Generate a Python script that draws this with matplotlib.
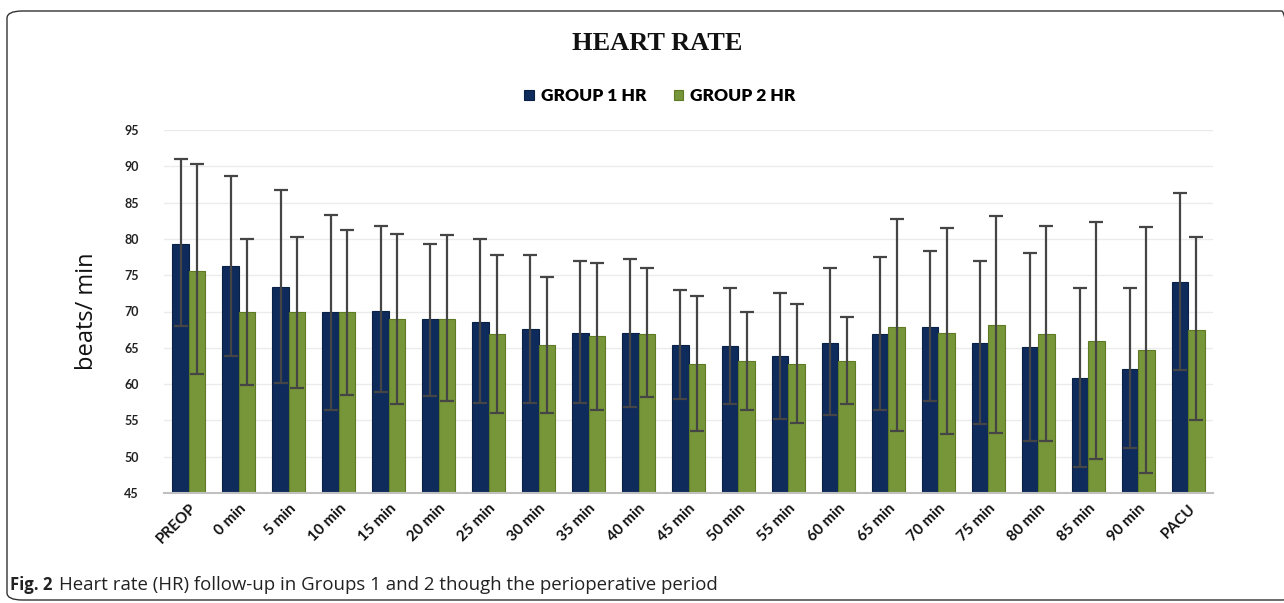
import numpy as np
import matplotlib.pyplot as plt
from matplotlib.patches import FancyBboxPatch

categories = ["PREOP", "0 min", "5 min", "10 min", "15 min", "20 min", "25 min",
              "30 min", "35 min", "40 min", "45 min", "50 min", "55 min", "60 min",
              "65 min", "70 min", "75 min", "80 min", "85 min", "90 min", "PACU"]

# group 1: mean, top of error bar, bottom of error bar
g1_mean = [79.3, 76.3, 73.4, 69.9, 70.1, 68.9, 68.6, 67.6, 67.1, 67.1, 65.4,
           65.2, 63.9, 65.7, 66.9, 67.9, 65.6, 65.1, 60.9, 62.1, 74.1]
g1_top = [91.0, 88.7, 86.7, 83.3, 81.8, 79.3, 80.0, 77.8, 77.0, 77.2, 73.0,
          73.3, 72.5, 76.0, 77.5, 78.3, 77.0, 78.0, 73.2, 73.2, 86.3]
g1_bot = [68.0, 63.9, 60.2, 56.5, 58.9, 58.4, 57.4, 57.4, 57.4, 56.9, 57.9,
          57.2, 55.2, 55.7, 56.4, 57.7, 54.5, 52.2, 48.6, 51.2, 61.9]

# group 2
g2_mean = [75.6, 69.9, 69.9, 69.9, 68.9, 68.9, 66.9, 65.4, 66.6, 66.9, 62.7,
           63.2, 62.7, 63.2, 67.9, 67.1, 68.1, 66.9, 65.9, 64.7, 67.4]
g2_top = [90.3, 80.0, 80.2, 81.2, 80.7, 80.5, 77.8, 74.8, 76.7, 76.0, 72.2,
          70.0, 71.0, 69.3, 82.7, 81.5, 83.2, 81.8, 82.3, 81.7, 80.2]
g2_bot = [61.4, 59.9, 59.4, 58.5, 57.2, 57.7, 56.0, 56.0, 56.4, 58.2, 53.5,
          56.5, 54.7, 57.2, 53.5, 53.1, 53.2, 52.2, 49.7, 47.8, 55.0]

navy = "#0e2b5c"
green = "#77963a"

fig = plt.figure(figsize=(12.84, 6.03), dpi=100)

# rounded frame around the figure
frame = FancyBboxPatch((7 / 1284, 3 / 603), 1290 / 1284, 589 / 603,
                       boxstyle="round,pad=0,rounding_size=0.012",
                       transform=fig.transFigure, fill=False,
                       edgecolor="#333333", linewidth=1.0, clip_on=False)
fig.patches.append(frame)

ax = fig.add_axes([164 / 1284, 1 - 493 / 603, (1213 - 164) / 1284, (493 - 130) / 603])

x = np.arange(len(categories))
w = 0.33
m1 = np.array(g1_mean)
m2 = np.array(g2_mean)
err1 = [m1 - np.array(g1_bot), np.array(g1_top) - m1]
err2 = [m2 - np.array(g2_bot), np.array(g2_top) - m2]

ebar = dict(ecolor="#454545", elinewidth=1.6, capsize=5, capthick=1.6)
ax.bar(x - w / 2, m1 - 45, w, bottom=45, color=navy, edgecolor="#0a2045",
       linewidth=0.8, label="GROUP 1 HR", zorder=2)
ax.bar(x + w / 2, m2 - 45, w, bottom=45, color=green, edgecolor="#5e7a25",
       linewidth=0.8, label="GROUP 2 HR", zorder=2)
ax.errorbar(x - w / 2, m1, yerr=err1, fmt="none", zorder=3, **ebar)
ax.errorbar(x + w / 2, m2, yerr=err2, fmt="none", zorder=3, **ebar)

ax.set_xlim(-0.5, len(categories) - 0.5)
ax.set_ylim(45, 95)
ax.set_yticks(np.arange(45, 96, 5))
ax.grid(axis="y", color="#ebebeb", linewidth=1.0, zorder=0)
ax.set_axisbelow(True)
for s in ["top", "right", "left"]:
    ax.spines[s].set_visible(False)
ax.spines["bottom"].set_color("#c0c0c0")
ax.spines["bottom"].set_linewidth(1.5)
ax.tick_params(axis="both", length=0)
ax.tick_params(axis="y", pad=18)
ax.tick_params(axis="x", pad=6)

ax.set_xticks(x)
ax.set_xticklabels(categories, rotation=45, ha="right", rotation_mode="anchor",
                   fontsize=11, fontweight="bold", family="Lato", color="#111111")
for lab in ax.get_yticklabels():
    lab.set_fontsize(9)
    lab.set_fontweight("bold")
    lab.set_family("Lato")
    lab.set_color("#222222")

ax.set_ylabel("beats/ min", fontsize=17, family="Open Sans", color="#111111", labelpad=18)

fig.text(657 / 1284, 1 - 44 / 603, "HEART RATE", ha="center", va="center",
         fontsize=19, fontweight="bold", family="Liberation Serif", color="#111111")
ax.legend(loc="center", bbox_to_anchor=(660 / 1284, 1 - 96 / 603),
          bbox_transform=fig.transFigure, ncol=2, frameon=False,
          prop=dict(family="Lato", weight="heavy", size=12.5),
          handlelength=0.55, handleheight=0.55, handletextpad=0.4, columnspacing=1.6)

fig.text(10 / 1284, 1 - 585 / 603, "Fig. 2", ha="left", va="center",
         fontsize=12, fontweight="bold", family="Open Sans", color="#222222")
fig.text(59 / 1284, 1 - 585 / 603,
         "Heart rate (HR) follow-up in Groups 1 and 2 though the perioperative period",
         ha="left", va="center", fontsize=13.4, family="Open Sans", color="#222222")

fig.savefig("out.png", dpi=100)
